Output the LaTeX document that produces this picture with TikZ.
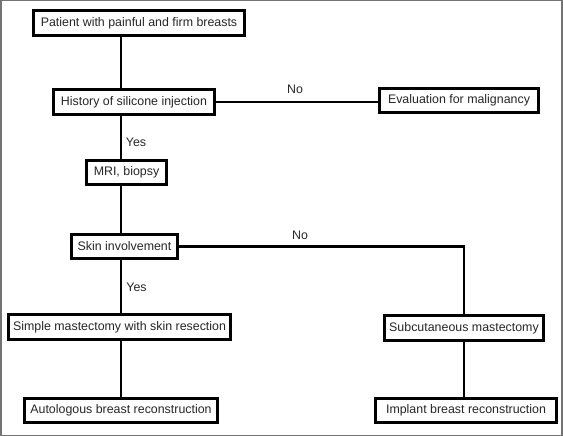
\documentclass[tikz,border=0pt]{standalone}
\usepackage{fontspec}
\setmainfont{Liberation Sans}
\begin{document}
\begin{tikzpicture}[x=1pt,y=-1pt,
  box/.style={draw=black, line width=3.3pt, fill=white, inner sep=0pt, text=black!85,
    font=\fontsize{12.4}{15}\selectfont},
  conn/.style={draw=black, line width=2.7pt},
  lbl/.style={inner sep=0pt, text=black!85, font=\fontsize{12.4}{15}\selectfont}]
\useasboundingbox (0,0) rectangle (563,436);
\draw[draw=black!55, line width=1.5pt] (0.75,0.75) rectangle (561.75,435.25);
\coordinate (mx) at (121,0);
\node[box, minimum width=210.7pt, minimum height=24.7pt] (b1) at (139,23) {Patient with painful and firm breasts};
\node[box, minimum width=160.7pt, minimum height=24.7pt] (b2) at (134,102) {History of silicone injection};
\node[box, minimum width=158.7pt, minimum height=23.7pt] (b3) at (459,100.5) {Evaluation for malignancy};
\node[box, minimum width=79.7pt, minimum height=23.7pt] (b4) at (126.5,172.5) {MRI, biopsy};
\node[box, minimum width=105.7pt, minimum height=23.7pt] (b5) at (124.5,246.5) {Skin involvement};
\node[box, minimum width=221.7pt, minimum height=24.7pt] (b6) at (119.5,327) {Simple mastectomy with skin resection};
\node[box, minimum width=158.7pt, minimum height=24.7pt] (b7) at (464,328) {Subcutaneous mastectomy};
\node[box, minimum width=192.7pt, minimum height=23.7pt] (b8) at (121,410.5) {Autologous breast reconstruction};
\node[box, minimum width=180.7pt, minimum height=23.7pt] (b9) at (466,410.5) {Implant breast reconstruction};
\draw[conn] (b1.south -| mx) -- (b2.north -| mx);
\draw[conn] (b2.south -| mx) -- (b4.north -| mx);
\draw[conn] (b4.south -| mx) -- (b5.north -| mx);
\draw[conn] (b5.south -| mx) -- (b6.north -| mx);
\draw[conn] (b6.south -| mx) -- (b8.north -| mx);
\draw[conn] (b2.east) -- (b2.east -| b3.west);
\draw[conn] (b5.east) -| (b7.north);
\draw[conn] (b7.south) -- (b7.south |- b9.north);
\node[lbl] (no1) at (295,89) {No};
\node[lbl] (yes1) at (136,142) {Yes};
\node[lbl] (no2) at (300,235.5) {No};
\node[lbl] (yes2) at (136.5,287) {Yes};
\end{tikzpicture}
\end{document}
